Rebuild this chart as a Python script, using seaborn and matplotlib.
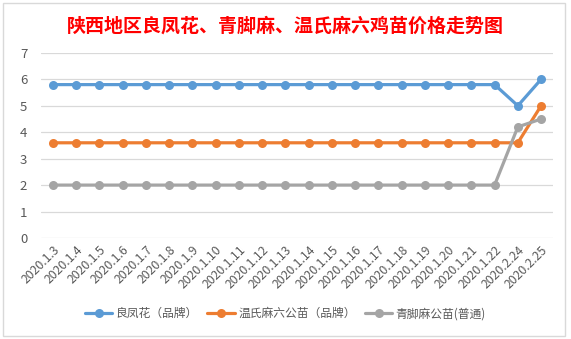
import pandas as pd
import seaborn as sns
import matplotlib.pyplot as plt
from matplotlib.patches import Rectangle

dates = ["2020.1.3", "2020.1.4", "2020.1.5", "2020.1.6", "2020.1.7", "2020.1.8",
         "2020.1.9", "2020.1.10", "2020.1.11", "2020.1.12", "2020.1.13", "2020.1.14",
         "2020.1.15", "2020.1.16", "2020.1.17", "2020.1.18", "2020.1.19", "2020.1.20",
         "2020.1.21", "2020.1.22", "2020.2.24", "2020.2.25"]
liangfeng = [5.8] * 20 + [5.0, 6.0]
wenshi = [3.6] * 20 + [3.6, 5.0]
qingjiao = [2.0] * 20 + [4.2, 4.5]

series_names = ["良凤花（品牌）", "温氏麻六公苗（品牌）", "青脚麻公苗(普通)"]
colors = ["#5B9BD5", "#ED7D31", "#A5A5A5"]

rows = []
for name, vals in zip(series_names, [liangfeng, wenshi, qingjiao]):
    for d, v in zip(dates, vals):
        rows.append({"date": d, "price": v, "series": name})
df = pd.DataFrame(rows)

sns.set_style("white")
plt.rcParams["font.family"] = ["Noto Sans CJK SC", "DejaVu Sans"]

fig = plt.figure(figsize=(5.71, 3.39), dpi=100)
ax = fig.add_axes([0.072, 0.298, 0.896, 0.546])

sns.lineplot(data=df, x="date", y="price", hue="series", hue_order=series_names,
             palette=colors, marker="o", markersize=6.5, markeredgewidth=0,
             linewidth=2.3, sort=False, ax=ax, legend=False)

ax.set_ylim(0, 7)
ax.set_yticks(range(0, 8))
ax.set_xlim(-0.5, len(dates) - 0.5)
ax.set_xticks(range(len(dates)))
ax.set_xticklabels(dates, rotation=45, ha="right", rotation_mode="anchor")
ax.tick_params(axis="x", labelsize=8.8, colors="#595959", length=0, pad=4)
ax.tick_params(axis="y", labelsize=9.5, colors="#595959", length=0, pad=10)
ax.grid(axis="y", color="#D9D9D9", linewidth=0.9)
ax.set_axisbelow(True)
for s in ax.spines.values():
    s.set_visible(False)
ax.set_xlabel("")
ax.set_ylabel("")

fig.text(0.5, 0.922, "陕西地区良凤花、青脚麻、温氏麻六鸡苗价格走势图",
         ha="center", va="center", color="red", fontsize=13.7, fontweight="bold")

handles = [plt.Line2D([], [], color=c, marker="o", markersize=6.5, markeredgewidth=0,
                      linewidth=2.3) for c in colors]
fig.legend(handles, series_names, loc="center", bbox_to_anchor=(0.5, 0.075), ncol=3,
           frameon=False, fontsize=8.5, labelcolor="#595959", handlelength=2.3,
           columnspacing=0.8, handletextpad=0.3)

fig.patches.append(Rectangle((0.005, 0.01), 0.985, 0.98, transform=fig.transFigure,
                             fill=False, edgecolor="#D9D9D9", linewidth=1))

fig.savefig("out.png", dpi=100)
